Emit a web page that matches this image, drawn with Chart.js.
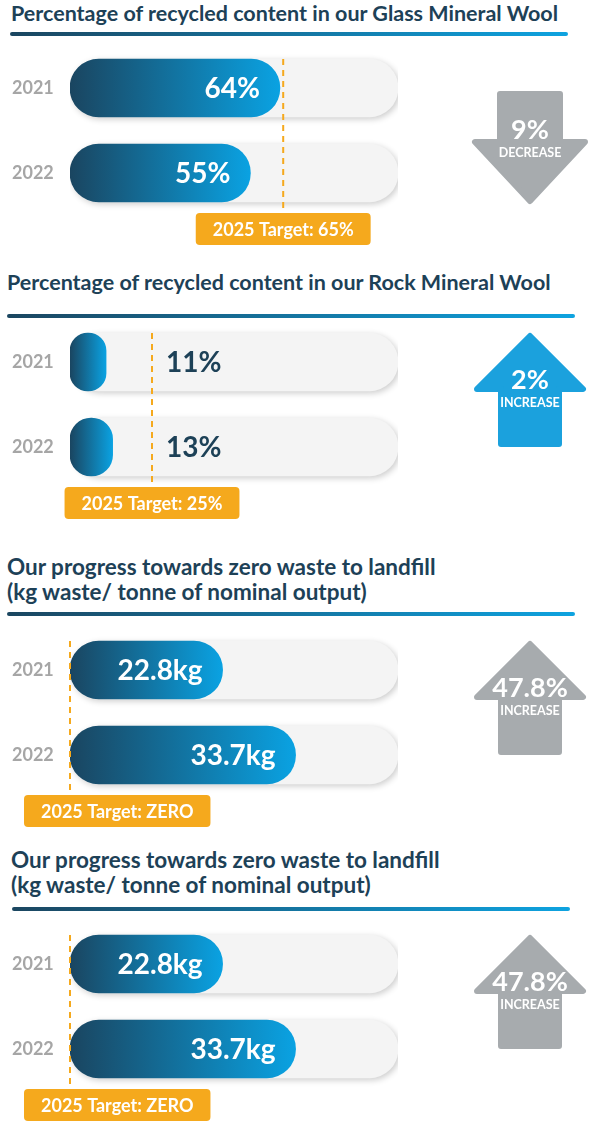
<!DOCTYPE html>
<html>
<head>
<meta charset="utf-8">
<script src="https://cdn.jsdelivr.net/npm/chart.js@4.4.0/dist/chart.umd.min.js"></script>
<style>
  body { margin: 0; background: #fff; width: 600px; height: 1138px; position: relative; overflow: hidden; font-family: Lato, sans-serif; }
  .title { position: absolute; color: #1d4157; font-weight: 700; font-size: 21.5px; line-height: 25px; white-space: nowrap; }
  .title.two { font-size: 22.5px; }
  .rule { position: absolute; height: 4px; border-radius: 2px; background: linear-gradient(to right, #1b4660, #0ea3e0); }
  .panel { position: absolute; left: 0; width: 600px; height: 215px; }
</style>
</head>
<body>
<div class="title" style="left:11px;top:1px">Percentage of recycled content in our Glass Mineral Wool</div>
<div class="rule" style="left:10px;top:32px;width:558px"></div>
<div class="panel" style="top:40px"><canvas id="glass"></canvas></div>

<div class="title" style="left:7px;top:270px">Percentage of recycled content in our Rock Mineral Wool</div>
<div class="rule" style="left:7px;top:314px;width:568px"></div>
<div class="panel" style="top:314px"><canvas id="rock"></canvas></div>

<div class="title two" style="left:7px;top:554px">Our progress towards zero waste to landfill<br>(kg waste/ tonne of nominal output)</div>
<div class="rule" style="left:7px;top:612px;width:568px"></div>
<div class="panel" style="top:622px"><canvas id="waste1"></canvas></div>

<div class="title two" style="left:11px;top:847px">Our progress towards zero waste to landfill<br>(kg waste/ tonne of nominal output)</div>
<div class="rule" style="left:12px;top:907px;width:558px"></div>
<div class="panel" style="top:916px"><canvas id="waste2"></canvas></div>

<script>
const years = ['2021', '2022'];
const glassValues = [64, 55];
const rockValues = [11, 13];
const wasteValues = [22.8, 33.7];
const glassTarget = 65;
const rockTarget = 25;
const wasteTarget = 0;
const percentMax = 100;
const wasteMax = 49;

const DARK = '#1d4157';
const ORANGE = '#f5a91d';

// decorations: track shadow, target line + box, value labels, change arrow
const panelDecor = {
    id: 'panelDecor',
    beforeDatasetDraw(chart, args) {
        if (args.index === 0) {
            chart.ctx.save();
            chart.ctx.shadowColor = 'rgba(0,0,0,0.2)';
            chart.ctx.shadowBlur = 6;
            chart.ctx.shadowOffsetX = 2;
            chart.ctx.shadowOffsetY = 2;
        }
    },
    afterDatasetDraw(chart, args) {
        if (args.index === 0) chart.ctx.restore();
    },
    afterDatasetsDraw(chart, args, opts) {
        const ctx = chart.ctx;
        const track = chart.getDatasetMeta(0).data;
        const bars = chart.getDatasetMeta(1).data;
        const tx = chart.scales.x.getPixelForValue(opts.target);
        const trackTop = track[0].y - track[0].height / 2;
        const trackBottom = track[1].y + track[1].height / 2;
        const boxTop = trackBottom + 11;

        // value labels
        ctx.save();
        ctx.font = 'bold 28px Lato';
        ctx.textBaseline = 'middle';
        bars.forEach((bar, i) => {
            const txt = opts.labels[i];
            if (bar.x - bar.base > 90) {
                ctx.fillStyle = '#fff';
                ctx.textAlign = 'right';
                ctx.fillText(txt, bar.x - 20, bar.y + 1);
            } else {
                ctx.fillStyle = DARK;
                ctx.textAlign = 'left';
                ctx.fillText(txt, tx + 14, bar.y + 1);
            }
        });
        ctx.restore();

        // dashed target line
        ctx.save();
        ctx.strokeStyle = ORANGE;
        ctx.lineWidth = 2;
        ctx.setLineDash([6, 5]);
        ctx.beginPath();
        ctx.moveTo(tx, trackTop);
        ctx.lineTo(tx, boxTop);
        ctx.stroke();
        ctx.restore();

        // target box
        ctx.save();
        ctx.font = 'bold 18px Lato';
        const w = ctx.measureText(opts.targetText).width + 34;
        const bx = Math.max(24, tx - w / 2);
        ctx.fillStyle = ORANGE;
        ctx.beginPath();
        ctx.roundRect(bx, boxTop, w, 32, 4);
        ctx.fill();
        ctx.fillStyle = '#fff';
        ctx.textAlign = 'center';
        ctx.textBaseline = 'middle';
        ctx.fillText(opts.targetText, bx + w / 2, boxTop + 17);
        ctx.restore();
    },
    afterDraw(chart, args, opts) {
        const ctx = chart.ctx;
        const cx = 530;
        ctx.save();
        ctx.fillStyle = opts.arrowColor;
        ctx.strokeStyle = opts.arrowColor;
        ctx.lineWidth = 6;
        ctx.lineJoin = 'round';
        ctx.beginPath();
        if (opts.direction === 'up') {
            ctx.moveTo(cx, 22);
            ctx.lineTo(cx + 53, 75);
            ctx.lineTo(cx + 29, 75);
            ctx.lineTo(cx + 29, 130);
            ctx.lineTo(cx - 29, 130);
            ctx.lineTo(cx - 29, 75);
            ctx.lineTo(cx - 53, 75);
        } else {
            ctx.moveTo(cx - 30, 54);
            ctx.lineTo(cx + 30, 54);
            ctx.lineTo(cx + 30, 102);
            ctx.lineTo(cx + 55, 102);
            ctx.lineTo(cx, 161);
            ctx.lineTo(cx - 55, 102);
            ctx.lineTo(cx - 30, 102);
        }
        ctx.closePath();
        ctx.fill();
        ctx.stroke();

        const ty = opts.direction === 'up' ? 66 : 90;
        ctx.fillStyle = '#fff';
        ctx.textAlign = 'center';
        ctx.textBaseline = 'middle';
        ctx.font = 'bold 27px Lato';
        ctx.fillText(opts.change, cx, ty);
        ctx.font = 'bold 12.5px Lato';
        ctx.fillText(opts.changeWord, cx, ty + 23);
        ctx.restore();
    }
};

function makePanel(id, values, max, target, unit, targetText, change, changeWord, direction, arrowColor) {
    const ctx = document.getElementById(id).getContext('2d');
    return new Chart(ctx, {
        type: 'bar',
        data: {
            labels: years,
            datasets: [{
                label: 'track',
                data: years.map(() => max),
                backgroundColor: '#f4f4f4',
                order: 2
            }, {
                label: 'value',
                data: values,
                order: 1,
                backgroundColor: function(c) {
                    const chart = c.chart;
                    if (!chart.chartArea) return '#0e7fb5';
                    const x0 = chart.scales.x.getPixelForValue(0);
                    const x1 = chart.scales.x.getPixelForValue(c.raw);
                    const g = chart.ctx.createLinearGradient(x0, 0, Math.max(x1, x0 + 1), 0);
                    g.addColorStop(0, '#1a4560');
                    g.addColorStop(1, '#0aa2e2');
                    return g;
                }
            }]
        },
        options: {
            indexAxis: 'y',
            responsive: true,
            maintainAspectRatio: false,
            animation: false,
            datasets: {
                bar: {
                    grouped: false,
                    barThickness: 58,
                    borderRadius: 29,
                    borderSkipped: false
                }
            },
            layout: { padding: { left: 12, right: 202, top: 5.5, bottom: 39.5 } },
            scales: {
                x: { type: 'linear', min: 0, max: max, display: false },
                y: {
                    type: 'category',
                    offset: true,
                    grid: { display: false, drawTicks: false },
                    border: { display: false },
                    ticks: {
                        color: '#a6a6a6',
                        font: { family: 'Lato', weight: 'bold', size: 18 },
                        crossAlign: 'far',
                        padding: 16
                    },
                    afterFit: function(axis) {
                        axis.width = 58;
                        axis.paddingTop = 0;
                        axis.paddingBottom = 0;
                    }
                }
            },
            plugins: {
                legend: { display: false },
                tooltip: { enabled: false },
                panelDecor: {
                    target: target,
                    targetText: targetText,
                    labels: values.map(v => v + unit),
                    change: change,
                    changeWord: changeWord,
                    direction: direction,
                    arrowColor: arrowColor
                }
            }
        },
        plugins: [panelDecor]
    });
}

makePanel('glass', glassValues, percentMax, glassTarget, '%', '2025 Target: 65%', '9%', 'DECREASE', 'down', '#a7abae');
makePanel('rock', rockValues, percentMax, rockTarget, '%', '2025 Target: 25%', '2%', 'INCREASE', 'up', '#1ba1dd');
makePanel('waste1', wasteValues, wasteMax, wasteTarget, 'kg', '2025 Target: ZERO', '47.8%', 'INCREASE', 'up', '#a7abae');
makePanel('waste2', wasteValues, wasteMax, wasteTarget, 'kg', '2025 Target: ZERO', '47.8%', 'INCREASE', 'up', '#a7abae');
</script>
</body>
</html>
